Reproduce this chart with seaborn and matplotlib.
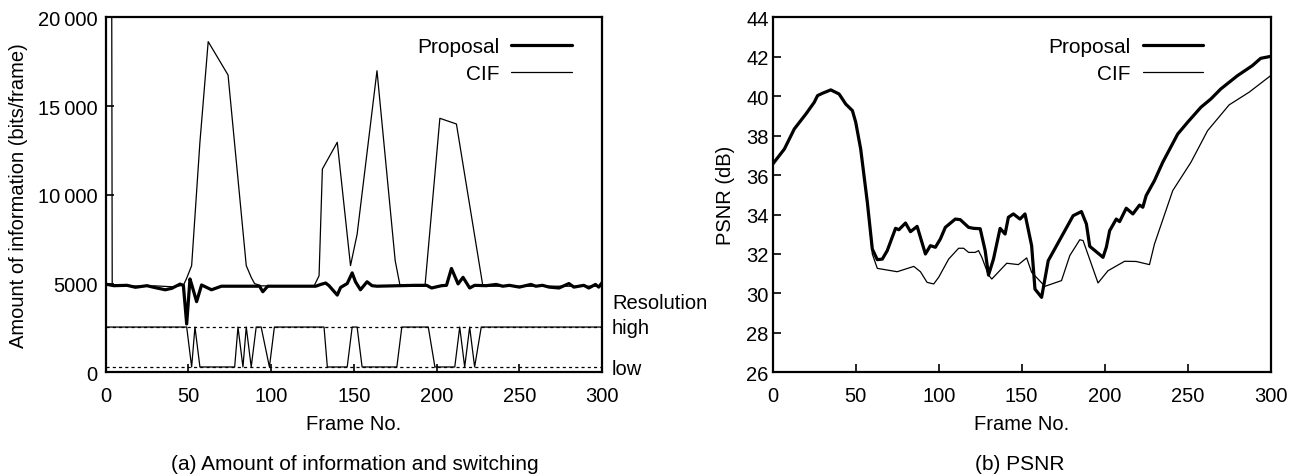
import matplotlib
matplotlib.use('Agg')
import matplotlib.pyplot as plt
import seaborn as sns

# ------------------------ data ------------------------ #
# (a) amount of information (bits/frame)
prop_bits_frame = [0, 5, 13, 18, 25, 29, 36, 40, 45, 47, 49, 51, 52, 55, 58, 64, 70, 93, 95, 98,
                   127, 130, 133, 135, 140, 142, 146, 149, 151, 154, 158, 161, 164, 187, 194, 197,
                   203, 206, 209, 213, 216, 220, 223, 230, 236, 240, 244, 250, 257, 260, 264, 268,
                   274, 280, 283, 289, 292, 296, 298, 300]
prop_bits = [4970, 4880, 4900, 4790, 4880, 4790, 4650, 4730, 4970, 4900, 2720, 5260, 4950, 3980,
             4920, 4650, 4850, 4850, 4540, 4850, 4850, 4950, 5030, 4880, 4350, 4780, 5000, 5600,
             5100, 4650, 5100, 4880, 4850, 4900, 4900, 4750, 4880, 4900, 5850, 4980, 5350, 4750,
             4900, 4880, 4950, 4850, 4900, 4800, 4950, 4850, 4900, 4800, 4750, 5000, 4800, 4900,
             4750, 4950, 4800, 5050]

cif_bits_frame = [3, 4, 10, 20, 30, 40, 47, 49, 52, 57, 62, 74, 85, 88, 90, 94, 126, 129, 131,
                  140, 148, 152, 164, 175, 178, 193, 202, 212, 228, 300]
cif_bits = [60000, 4950, 4900, 4850, 4870, 4820, 4900, 5300, 6010, 12960, 18630, 16750, 6010,
            5350, 5000, 4870, 4870, 5440, 11450, 12960, 6010, 7780, 16990, 6290, 4850, 4850,
            14310, 13990, 4850, 4850]

# resolution switching (drawn on the same axis)
res_high = 2550
res_low = 300
switch_frame = [0, 49, 52, 54, 57, 78, 80, 83, 85, 88, 91, 94, 99, 102, 132, 134, 146, 149, 152,
                155, 176, 179, 195, 199, 211, 214, 217, 220, 223, 227, 300]
switch_state = ['high', 'high', 'low', 'high', 'low', 'low', 'high', 'low', 'high', 'low', 'high',
                'high', 'low', 'high', 'high', 'low', 'low', 'high', 'high', 'low', 'low', 'high',
                'high', 'low', 'low', 'high', 'low', 'high', 'low', 'high', 'high']

# (b) PSNR (dB)
prop_psnr_frame = [0, 7, 13, 20, 25, 27, 30, 35, 40, 44, 48, 50, 53, 57, 60, 63, 66, 69, 74, 76,
                   80, 83, 87, 92, 95, 98, 101, 104, 110, 113, 118, 121, 125, 128, 130, 133, 137,
                   140, 142, 145, 149, 152, 156, 158, 162, 166, 181, 186, 189, 191, 199, 201, 203,
                   207, 209, 213, 217, 221, 223, 225, 230, 235, 244, 250, 258, 264, 270, 280, 289,
                   294, 300]
prop_psnr = [36.56, 37.32, 38.34, 39.10, 39.69, 40.03, 40.15, 40.32, 40.11, 39.60, 39.27, 38.68,
             37.32, 34.62, 32.25, 31.71, 31.74, 32.17, 33.30, 33.23, 33.57, 33.13, 33.40, 32.00,
             32.42, 32.34, 32.76, 33.35, 33.77, 33.74, 33.35, 33.30, 33.28, 32.17, 30.93, 31.74,
             33.30, 33.01, 33.86, 34.03, 33.77, 34.03, 32.42, 30.22, 29.80, 31.66, 33.94, 34.15,
             33.52, 32.39, 31.83, 32.34, 33.18, 33.77, 33.64, 34.32, 34.03, 34.48, 34.37, 34.96,
             35.72, 36.65, 38.08, 38.68, 39.44, 39.86, 40.37, 41.04, 41.55, 41.92, 42.02]

cif_psnr_frame = [0, 7, 13, 20, 25, 27, 30, 35, 40, 44, 48, 50, 53, 57, 60, 63, 75, 85, 89, 93,
                  97, 100, 106, 112, 115, 118, 122, 124, 126, 130, 132, 141, 148, 153, 156, 164,
                  174, 179, 185, 187, 196, 202, 212, 219, 227, 230, 241, 252, 262, 275, 287, 300]
cif_psnr = [36.56, 37.32, 38.34, 39.10, 39.69, 40.03, 40.15, 40.32, 40.11, 39.60, 39.27, 38.68,
            37.32, 34.62, 32.00, 31.27, 31.10, 31.37, 31.10, 30.56, 30.48, 30.82, 31.74, 32.29,
            32.29, 32.08, 32.08, 32.17, 31.83, 30.93, 30.73, 31.53, 31.46, 31.80, 31.07, 30.36,
            30.65, 31.92, 32.72, 32.68, 30.53, 31.15, 31.63, 31.62, 31.46, 32.50, 35.21, 36.65,
            38.25, 39.56, 40.20, 41.04]

# ------------------------ style ------------------------ #
sns.set_style('ticks')
plt.rcParams['font.family'] = ['Liberation Sans', 'DejaVu Sans']
plt.rcParams['font.size'] = 14.5
plt.rcParams['text.color'] = 'black'
plt.rcParams['axes.labelcolor'] = 'black'
plt.rcParams['xtick.color'] = 'black'
plt.rcParams['ytick.color'] = 'black'
plt.rcParams['axes.edgecolor'] = 'black'
plt.rcParams['axes.axisbelow'] = False
plt.rcParams['xtick.direction'] = 'in'
plt.rcParams['ytick.direction'] = 'in'

fig = plt.figure(figsize=(13.02, 4.77), dpi=100)
ax1 = fig.add_axes([0.0811, 0.2174, 0.3813, 0.7442])
ax2 = fig.add_axes([0.5935, 0.2174, 0.3824, 0.7442])

THICK = 2.3
THIN = 0.9

# ------------------------ (a) ------------------------ #
sns.lineplot(x=prop_bits_frame, y=prop_bits, ax=ax1, color='black', lw=THICK,
             label='Proposal', estimator=None, sort=False)
sns.lineplot(x=cif_bits_frame, y=cif_bits, ax=ax1, color='black', lw=THIN,
             label='CIF', estimator=None, sort=False)
levels = {'high': res_high, 'low': res_low}
sns.lineplot(x=switch_frame, y=[levels[s] for s in switch_state], ax=ax1, color='black',
             lw=THIN, estimator=None, sort=False, legend=False)
ax1.axhline(res_high, color='black', lw=0.9, ls=(0, (2.5, 2.5)), zorder=1)
ax1.axhline(res_low, color='black', lw=0.9, ls=(0, (2.5, 2.5)), zorder=1)

ax1.set_xlim(0, 300)
ax1.set_ylim(0, 20000)
ax1.set_xticks([0, 50, 100, 150, 200, 250, 300])
ax1.set_yticks([0, 5000, 10000, 15000, 20000])
ax1.set_yticklabels(['0', '5000', '10\u2009000', '15\u2009000', '20\u2009000'])
ax1.set_xlabel('Frame No.')
ax1.set_ylabel('Amount of information (bits/frame)')

ax1.text(306, 3960, 'Resolution', va='center', ha='left', clip_on=False)
ax1.text(306, res_high, 'high', va='center', ha='left', clip_on=False)
ax1.text(306, res_low - 80, 'low', va='center', ha='left', clip_on=False)

# ------------------------ (b) ------------------------ #
sns.lineplot(x=prop_psnr_frame, y=prop_psnr, ax=ax2, color='black', lw=THICK,
             label='Proposal', estimator=None, sort=False)
sns.lineplot(x=cif_psnr_frame, y=cif_psnr, ax=ax2, color='black', lw=THIN,
             label='CIF', estimator=None, sort=False)
ax2.set_xlim(0, 300)
ax2.set_ylim(26, 44)
ax2.set_xticks([0, 50, 100, 150, 200, 250, 300])
ax2.set_yticks([26, 28, 30, 32, 34, 36, 38, 40, 42, 44])
ax2.set_xlabel('Frame No.')
ax2.set_ylabel('PSNR (dB)')

for ax, lx in ((ax1, 0.956), (ax2, 0.881)):
    for sp in ax.spines.values():
        sp.set_visible(True)
        sp.set_linewidth(1.6)
        sp.set_zorder(5)
    ax.tick_params(axis='both', which='major', direction='in', length=6, width=1.2,
                   bottom=True, left=True, top=False, right=False,
                   labelsize=14.5, color='black')
    ax.tick_params(axis='x', pad=10)
    ax.xaxis.labelpad = 6
    ax.legend(loc='upper right', bbox_to_anchor=(lx, 0.968), frameon=False,
              markerfirst=False, handlelength=2.9, handletextpad=0.56,
              labelspacing=0.4, borderaxespad=0, fontsize=15)

ax1.tick_params(axis='y', pad=6)
ax2.tick_params(axis='y', pad=3)
ax1.yaxis.labelpad = 7
ax2.yaxis.labelpad = 8

fig.text(0.2727, 0.026, '(a) Amount of information and switching', ha='center', va='center',
         fontsize=15)
fig.text(0.7834, 0.026, '(b) PSNR', ha='center', va='center', fontsize=15)

plt.savefig('out.png', dpi=100)
